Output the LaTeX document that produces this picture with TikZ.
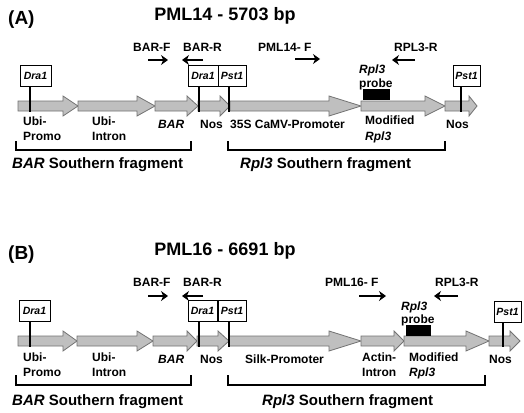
\documentclass[tikz,border=0pt]{standalone}
\usepackage{fontspec}
\setmainfont{Liberation Sans}
\usetikzlibrary{arrows.meta}
\newcommand\genearrow[4]{% start, head base, tip, centre y
  \draw[genearr] (#1,#4-5) -- (#2,#4-5) -- (#2,#4-10) -- (#3,#4) -- (#2,#4+10) -- (#2,#4+5) -- (#1,#4+5) -- cycle;}
\begin{document}
\begin{tikzpicture}[x=1pt,y=-1pt,
  lbl/.style={font=\fontsize{12}{14}\selectfont\bfseries, inner sep=0, anchor=base west},
  ilbl/.style={lbl, font=\fontsize{12}{14}\selectfont\bfseries\itshape},
  title/.style={font=\fontsize{18}{21}\selectfont\bfseries, inner sep=0, anchor=base},
  panel/.style={font=\fontsize{19}{22}\selectfont\bfseries, inner sep=0, anchor=base west},
  frag/.style={font=\fontsize{15}{18}\selectfont\bfseries, inner sep=0, anchor=base west},
  site/.style={draw=black, line width=0.8pt, fill=white, minimum height=21, inner sep=0,
    font=\fontsize{10.5}{12}\selectfont\bfseries\itshape},
  stem/.style={line width=2.6pt, black},
  genearr/.style={fill=black!25, draw=black!55, line width=0.8pt, line join=miter},
  primer/.style={line width=2.3pt, -{Stealth[length=7pt,width=10pt]}},
  bracket/.style={line width=2.2pt, line cap=rect},
  probe/.style={fill=black, draw=black}]
\useasboundingbox[fill=white] (0,0) rectangle (524,412);

% ================= Panel A =================
\node[panel] (pA) at (8,25) {(A)};
\node[title] (tA) at (225,21) {PML14 - 5703 bp};

\node[lbl] (barfA) at (133,52) {BAR-F};
\node[lbl] (barrA) at (183,52) {BAR-R};
\node[lbl] (pmlfA) at (258,52) {PML14- F};
\node[lbl] (rplrA) at (394,52) {RPL3-R};
\coordinate (a1s) at (148,60); \coordinate (a1e) at (168,60);
\coordinate (a2s) at (203,60); \coordinate (a2e) at (182,60);
\coordinate (a3s) at (295,59); \coordinate (a3e) at (320,59);
\coordinate (a4s) at (415,60); \coordinate (a4e) at (392,60);
\draw[primer] (a1s) -- (a1e);
\draw[primer] (a2s) -- (a2e);
\draw[primer] (a3s) -- (a3e);
\draw[primer] (a4s) -- (a4e);

\genearrow{18}{63}{78}{106}
\genearrow{78}{137}{155}{106}
\genearrow{155}{187}{198}{106}
\genearrow{198}{220}{230}{106}
\genearrow{230}{329}{361}{106}
\genearrow{361}{425}{445}{106}
\genearrow{445}{469}{477}{106}

\node[site, minimum width=31] (dA1) at (35.5,75.5) {Dra1};
\node[site, minimum width=30] (dA2) at (203,75.5) {Dra1};
\node[site, minimum width=28] (sA1) at (232,75.5) {Pst1};
\node[site, minimum width=27] (sA2) at (466.5,75.5) {Pst1};
\coordinate (kA1) at (30,112);
\coordinate (kA2) at (199,112);
\coordinate (kA3) at (229,112);
\coordinate (kA4) at (461,112);
\draw[stem] (kA1 |- dA1.south) -- (kA1);
\draw[stem] (kA2 |- dA2.south) -- (kA2);
\draw[stem] (kA3 |- sA1.south) -- (kA3);
\draw[stem] (kA4 |- sA2.south) -- (kA4);

\node[ilbl] (prA1) at (359,73.5) {Rpl3};
\node[lbl] (prA2) at (359,87) {probe};
\fill[probe] (363,89) rectangle (389,99);

\node[lbl] (uA1) at (23,125) {Ubi-};
\node[lbl] (uA2) at (23,140) {Promo};
\node[lbl] (uA3) at (92,125) {Ubi-};
\node[lbl] (uA4) at (92,140) {Intron};
\node[ilbl] (bA) at (158,128) {BAR};
\node[lbl] (nA1) at (200,128) {Nos};
\node[lbl] (cA) at (230,128) {35S CaMV-Promoter};
\node[lbl] (mA1) at (365,124.5) {Modified};
\node[ilbl] (mA2) at (365,140) {Rpl3};
\node[lbl] (nA2) at (446,128) {Nos};

\draw[bracket] (16,142) -- (16,150) -- (191,150) -- (191,142);
\draw[bracket] (228,142) -- (228,150) -- (445,150) -- (445,142);
\node[frag] (fA1) at (12,168) {\itshape BAR\upshape\ Southern fragment};
\node[frag] (fA2) at (240,168) {\itshape Rpl3\upshape\ Southern fragment};

% ================= Panel B =================
\node[panel] (pB) at (8,259) {(B)};
\node[title] (tB) at (225,255) {PML16 - 6691 bp};

\node[lbl] (barfB) at (133,286) {BAR-F};
\node[lbl] (barrB) at (183,286) {BAR-R};
\node[lbl] (pmlfB) at (325,286) {PML16- F};
\node[lbl] (rplrB) at (435,286) {RPL3-R};
\coordinate (b1s) at (148,296); \coordinate (b1e) at (168,296);
\coordinate (b2s) at (203,296); \coordinate (b2e) at (182,296);
\coordinate (b3s) at (359,296); \coordinate (b3e) at (386,296);
\coordinate (b4s) at (458,296); \coordinate (b4e) at (434,296);
\draw[primer] (b1s) -- (b1e);
\draw[primer] (b2s) -- (b2e);
\draw[primer] (b3s) -- (b3e);
\draw[primer] (b4s) -- (b4e);

\genearrow{18}{63}{77}{341}
\genearrow{77}{137}{153}{341}
\genearrow{153}{187}{197}{341}
\genearrow{197}{218}{229}{341}
\genearrow{229}{329}{361}{341}
\genearrow{361}{394}{404}{341}
\genearrow{404}{466}{489}{341}
\genearrow{489}{510}{520}{341}

\node[site, minimum width=31] (dB1) at (34.5,311) {Dra1};
\node[site, minimum width=29] (dB2) at (202.5,311) {Dra1};
\node[site, minimum width=28] (sB1) at (232,311) {Pst1};
\node[site, minimum width=27] (sB2) at (507.5,312) {Pst1};
\coordinate (kB1) at (30,347);
\coordinate (kB2) at (199,347);
\coordinate (kB3) at (229,347);
\coordinate (kB4) at (503,347);
\draw[stem] (kB1 |- dB1.south) -- (kB1);
\draw[stem] (kB2 |- dB2.south) -- (kB2);
\draw[stem] (kB3 |- sB1.south) -- (kB3);
\draw[stem] (kB4 |- sB2.south) -- (kB4);

\node[ilbl] (prB1) at (401,310) {Rpl3};
\node[lbl] (prB2) at (401,323) {probe};
\fill[probe] (406,325) rectangle (430,335);

\node[lbl] (uB1) at (23,361) {Ubi-};
\node[lbl] (uB2) at (23,376) {Promo};
\node[lbl] (uB3) at (92,361) {Ubi-};
\node[lbl] (uB4) at (92,376) {Intron};
\node[ilbl] (bB) at (158,363) {BAR};
\node[lbl] (nB1) at (200,363) {Nos};
\node[lbl] (cB) at (245,363) {Silk-Promoter};
\node[lbl] (aB1) at (362,361) {Actin-};
\node[lbl] (aB2) at (362,376) {Intron};
\node[lbl] (mB1) at (409,361) {Modified};
\node[ilbl] (mB2) at (409,376) {Rpl3};
\node[lbl] (nB2) at (489,363) {Nos};

\draw[bracket] (16,376) -- (16,385) -- (191,385) -- (191,376);
\draw[bracket] (228,376) -- (228,385) -- (485,385) -- (485,376);
\node[frag] (fB1) at (12,405) {\itshape BAR\upshape\ Southern fragment};
\node[frag] (fB2) at (262,405) {\itshape Rpl3\upshape\ Southern fragment};
\end{tikzpicture}
\end{document}
